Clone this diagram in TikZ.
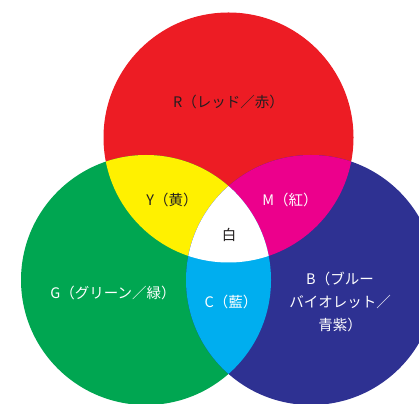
\documentclass[tikz,border=0pt]{standalone}
\usepackage{fontspec}
\setmainfont{Noto Sans CJK JP}
\definecolor{cR}{HTML}{ED1C24}
\definecolor{cG}{HTML}{00A651}
\definecolor{cB}{HTML}{2E3192}
\definecolor{cY}{HTML}{FFF100}
\definecolor{cM}{HTML}{EC008C}
\definecolor{cC}{HTML}{00AEEF}
\definecolor{ink}{HTML}{231F20}
\begin{document}
\begin{tikzpicture}[x=1pt,y=1pt,
  lbl/.style={font=\fontsize{14.5}{23}\selectfont, align=center, inner sep=0pt},
  dk/.style={lbl, text=ink},
  wt/.style={lbl, text=white}]
\useasboundingbox (0,0) rectangle (419,403);
\clip (0,0) rectangle (419,403);
\def\rad{125}
\coordinate (r) at (228.5,265.5);
\coordinate (g) at (146,123);
\coordinate (b) at (311,123);
\fill[cR] (r) circle (\rad);
\fill[cG] (g) circle (\rad);
\fill[cB] (b) circle (\rad);
\begin{scope}
  \clip (r) circle (\rad);
  \fill[cY] (g) circle (\rad);
  \fill[cM] (b) circle (\rad);
\end{scope}
\begin{scope}
  \clip (g) circle (\rad);
  \fill[cC] (b) circle (\rad);
  \clip (b) circle (\rad);
  \fill[white] (r) circle (\rad);
\end{scope}
\node[dk] (tr) at (228.5,301) {R（レッド／赤）};
\node[dk] (ty) at (172,203) {Y（黄）};
\node[wt] (tm) at (290,203) {M（紅）};
\node[dk] (tw) at (229,168) {白};
\node[wt] (tg) at (113,110) {G（グリーン／緑）};
\node[wt] (tc) at (231,101) {C（藍）};
\node[wt] (tb) at (340,101) {B（ブルー\\バイオレット／\\青紫）};
\end{tikzpicture}
\end{document}
